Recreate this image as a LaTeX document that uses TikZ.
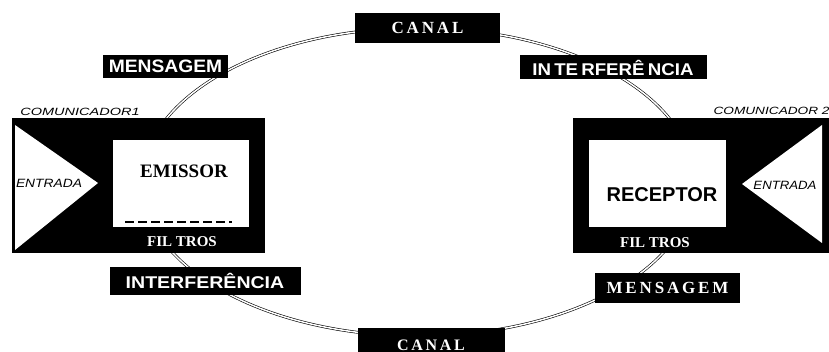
\documentclass[tikz,border=0pt]{standalone}
\usepackage{fontspec}
\setmainfont{Liberation Serif}
\setsansfont{Liberation Sans}
\begin{document}
\begin{tikzpicture}[x=1pt,y=-1pt,
  lbl/.style={fill=black,text=white,inner sep=0pt,font=\bfseries},
  blk/.style={fill=black},
  wht/.style={fill=white},
  chan/.style={draw=black,double=white,line width=0.6pt,double distance=1.5pt}]
\useasboundingbox (0,0) rectangle (829,352);
% channel ellipse
\draw[chan] (418,182) ellipse [x radius=276, y radius=154];
% left communicator
\node[blk,minimum width=253pt,minimum height=135pt,inner sep=0pt] (comL) at (138.5,185.5) {};
\fill[white] (15,125) -- (98,183) -- (15,250) -- cycle;
\node[wht,minimum width=136pt,minimum height=87pt,inner sep=0pt] (emis) at (181,183.5) {};
\node[font=\fontsize{19}{19}\selectfont\bfseries] (emist) at (184,171) {EMISSOR};
\draw[line width=1.3pt,dash pattern=on 9pt off 4pt] (125,222) -- (232,222);
\node[font=\sffamily\itshape\fontsize{12}{12}\selectfont] (entL) at (49,183) {\scalebox{1.15}[1]{ENTRADA}};
\node[text=white,font=\fontsize{15}{15}\selectfont\bfseries] (filL) at (182,242) {FIL TROS};
\node[font=\sffamily\itshape\fontsize{10.5}{10.5}\selectfont] (comLt) at (80,112) {\scalebox{1.38}[1]{COMUNICADOR1}};
% right communicator
\node[blk,minimum width=256pt,minimum height=135pt,inner sep=0pt] (comR) at (701,185.5) {};
\fill[white] (822,125) -- (742,184) -- (822,243) -- cycle;
\node[wht,minimum width=137pt,minimum height=87pt,inner sep=0pt] (rec) at (657.5,183.5) {};
\node[font=\sffamily\bfseries\fontsize{20}{20}\selectfont] (rect) at (662,195) {RECEPTOR};
\node[font=\sffamily\itshape\fontsize{12}{12}\selectfont] (entR) at (785,185) {\scalebox{1.1}[1]{ENTRADA}};
\node[text=white,font=\fontsize{15}{15}\selectfont\bfseries] (filR) at (655,243) {FIL TROS};
\node[font=\sffamily\itshape\fontsize{10.5}{10.5}\selectfont,anchor=west] (comRt) at (710,111) {\scalebox{1.3}[1]{COMUNICADOR 2}};
% labels on the channel
\node[lbl,minimum width=145pt,minimum height=30pt,font=\fontsize{17}{17}\selectfont\bfseries] (canT) at (427.5,28) {C\,A\,N\,A\,L};
\node[lbl,minimum width=147pt,minimum height=34pt] (canB) at (431.5,345) {};
\node[text=white,inner sep=0pt,font=\fontsize{16}{16}\selectfont\bfseries,anchor=base] (canBt) at (431,350) {C\,A\,N\,A\,L};
\node[lbl,minimum width=125pt,minimum height=23pt,font=\sffamily\bfseries\fontsize{18}{18}\selectfont] (mensT) at (165.5,66.5) {\scalebox{1.07}[1]{MENSAGEM}};
\node[lbl,minimum width=187pt,minimum height=24pt,font=\sffamily\bfseries\fontsize{17}{17}\selectfont] (intT) at (613,67.5) {\scalebox{1.1}[1]{IN\,TE\,RFERÊ\,NCIA}};
\node[lbl,minimum width=191pt,minimum height=28pt,font=\sffamily\bfseries\fontsize{17}{17}\selectfont] (intB) at (205,281) {\scalebox{1.15}[1]{INTERFERÊNCIA}};
\node[lbl,minimum width=145pt,minimum height=30pt,font=\fontsize{17}{17}\selectfont\bfseries] (mensB) at (667.5,288) {M\,E\,N\,S\,A\,G\,E\,M};
\end{tikzpicture}
\end{document}
